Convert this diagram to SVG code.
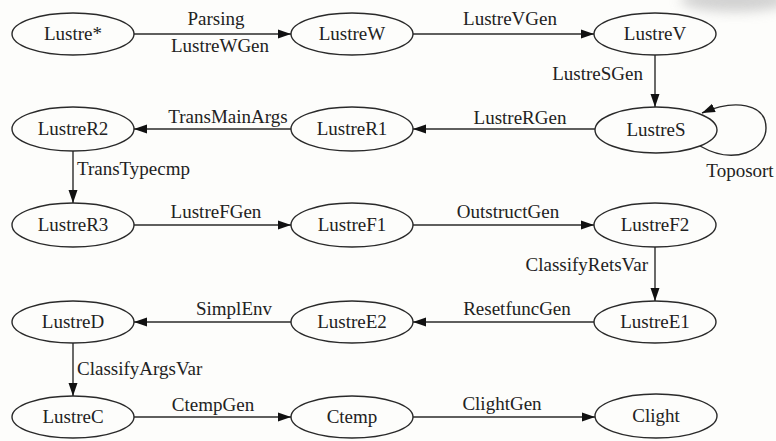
<svg xmlns="http://www.w3.org/2000/svg" width="776" height="441" viewBox="0 0 776 441">
  <style>
    .node ellipse { fill: none; stroke: #2a2a2a; stroke-width: 1.4; }
    .node text { font-family: "Liberation Serif", "Times New Roman", serif; font-size: 19px; fill: #222; text-anchor: middle; }
    .edges path { fill: none; stroke: #2a2a2a; stroke-width: 1.4; marker-end: url(#arrow); }
    .lbl { font-family: "Liberation Serif", "Times New Roman", serif; font-size: 19px; fill: #222; }
    .mid { text-anchor: middle; }
    .end { text-anchor: end; }
  </style>
  <defs>
    <marker id="arrow" markerUnits="userSpaceOnUse" markerWidth="14" markerHeight="10" refX="13" refY="5" orient="auto">
      <path d="M0,0.5 L13,5 L0,9.5 z" fill="#111"/>
    </marker>
    <filter id="soft" x="-50%" y="-50%" width="200%" height="200%">
      <feGaussianBlur stdDeviation="6"/>
    </filter>
  </defs>

  <rect width="776" height="441" fill="#fdfdfb"/>
  <!-- grey smudge at the upper right corner -->
  <ellipse cx="735" cy="0" rx="55" ry="12" fill="#c8c8c8" filter="url(#soft)" opacity="0.8"/>

  <!-- row 1 -->
  <g id="n-lustre-star" class="node"><ellipse cx="73" cy="34" rx="61" ry="21"/><text x="73" y="40">Lustre*</text></g>
  <g id="n-lustreW" class="node"><ellipse cx="352" cy="34" rx="61" ry="21"/><text x="352" y="40">LustreW</text></g>
  <g id="n-lustreV" class="node"><ellipse cx="655" cy="34" rx="61" ry="21"/><text x="655" y="40">LustreV</text></g>
  <!-- row 2 -->
  <g id="n-lustreR2" class="node"><ellipse cx="73" cy="129" rx="61" ry="22"/><text x="73" y="135">LustreR2</text></g>
  <g id="n-lustreR1" class="node"><ellipse cx="352" cy="129" rx="61" ry="22"/><text x="352" y="135">LustreR1</text></g>
  <g id="n-lustreS" class="node"><ellipse cx="656" cy="130" rx="61" ry="23"/><text x="656" y="136">LustreS</text></g>
  <!-- row 3 -->
  <g id="n-lustreR3" class="node"><ellipse cx="73" cy="225" rx="61" ry="22"/><text x="73" y="231">LustreR3</text></g>
  <g id="n-lustreF1" class="node"><ellipse cx="352" cy="225" rx="61" ry="22"/><text x="352" y="231">LustreF1</text></g>
  <g id="n-lustreF2" class="node"><ellipse cx="655" cy="225" rx="61" ry="22"/><text x="655" y="231">LustreF2</text></g>
  <!-- row 4 -->
  <g id="n-lustreD" class="node"><ellipse cx="73" cy="322" rx="61" ry="21"/><text x="73" y="328">LustreD</text></g>
  <g id="n-lustreE2" class="node"><ellipse cx="352" cy="322" rx="61" ry="21"/><text x="352" y="328">LustreE2</text></g>
  <g id="n-lustreE1" class="node"><ellipse cx="655" cy="322" rx="61" ry="21"/><text x="655" y="328">LustreE1</text></g>
  <!-- row 5 -->
  <g id="n-lustreC" class="node"><ellipse cx="73" cy="417" rx="61" ry="21"/><text x="73" y="423">LustreC</text></g>
  <g id="n-ctemp" class="node"><ellipse cx="352" cy="417" rx="61" ry="21"/><text x="352" y="423">Ctemp</text></g>
  <g id="n-clight" class="node"><ellipse cx="656" cy="416" rx="61" ry="22"/><text x="656" y="422">Clight</text></g>

  <g id="edges" class="edges">
    <path d="M134,34 H291"/>
    <path d="M413,34 H594"/>
    <path d="M655,55 V107"/>
    <path d="M700,146 C735,166 766,150 766,128 C766,103 734,99 702,113"/>
    <path d="M595,129 H413"/>
    <path d="M291,129 H134"/>
    <path d="M73,151 V203"/>
    <path d="M134,225 H291"/>
    <path d="M413,225 H594"/>
    <path d="M655,247 V301"/>
    <path d="M594,322 H413"/>
    <path d="M291,322 H134"/>
    <path d="M73,343 V396"/>
    <path d="M134,417 H291"/>
    <path d="M413,417 H595"/>
  </g>

  <g id="edge-labels">
    <text class="lbl mid" x="216" y="25">Parsing</text>
    <text class="lbl mid" x="220" y="52">LustreWGen</text>
    <text class="lbl mid" x="510" y="25">LustreVGen</text>
    <text class="lbl end" x="643" y="80">LustreSGen</text>
    <text class="lbl mid" x="740" y="177">Toposort</text>
    <text class="lbl mid" x="520" y="124">LustreRGen</text>
    <text class="lbl mid" x="228" y="123">TransMainArgs</text>
    <text class="lbl" x="77" y="175">TransTypecmp</text>
    <text class="lbl mid" x="216" y="218">LustreFGen</text>
    <text class="lbl mid" x="508" y="218">OutstructGen</text>
    <text class="lbl end" x="648" y="271">ClassifyRetsVar</text>
    <text class="lbl mid" x="517" y="315">ResetfuncGen</text>
    <text class="lbl mid" x="234" y="315">SimplEnv</text>
    <text class="lbl" x="77" y="375">ClassifyArgsVar</text>
    <text class="lbl mid" x="213" y="411">CtempGen</text>
    <text class="lbl mid" x="502" y="410">ClightGen</text>
  </g>
</svg>
